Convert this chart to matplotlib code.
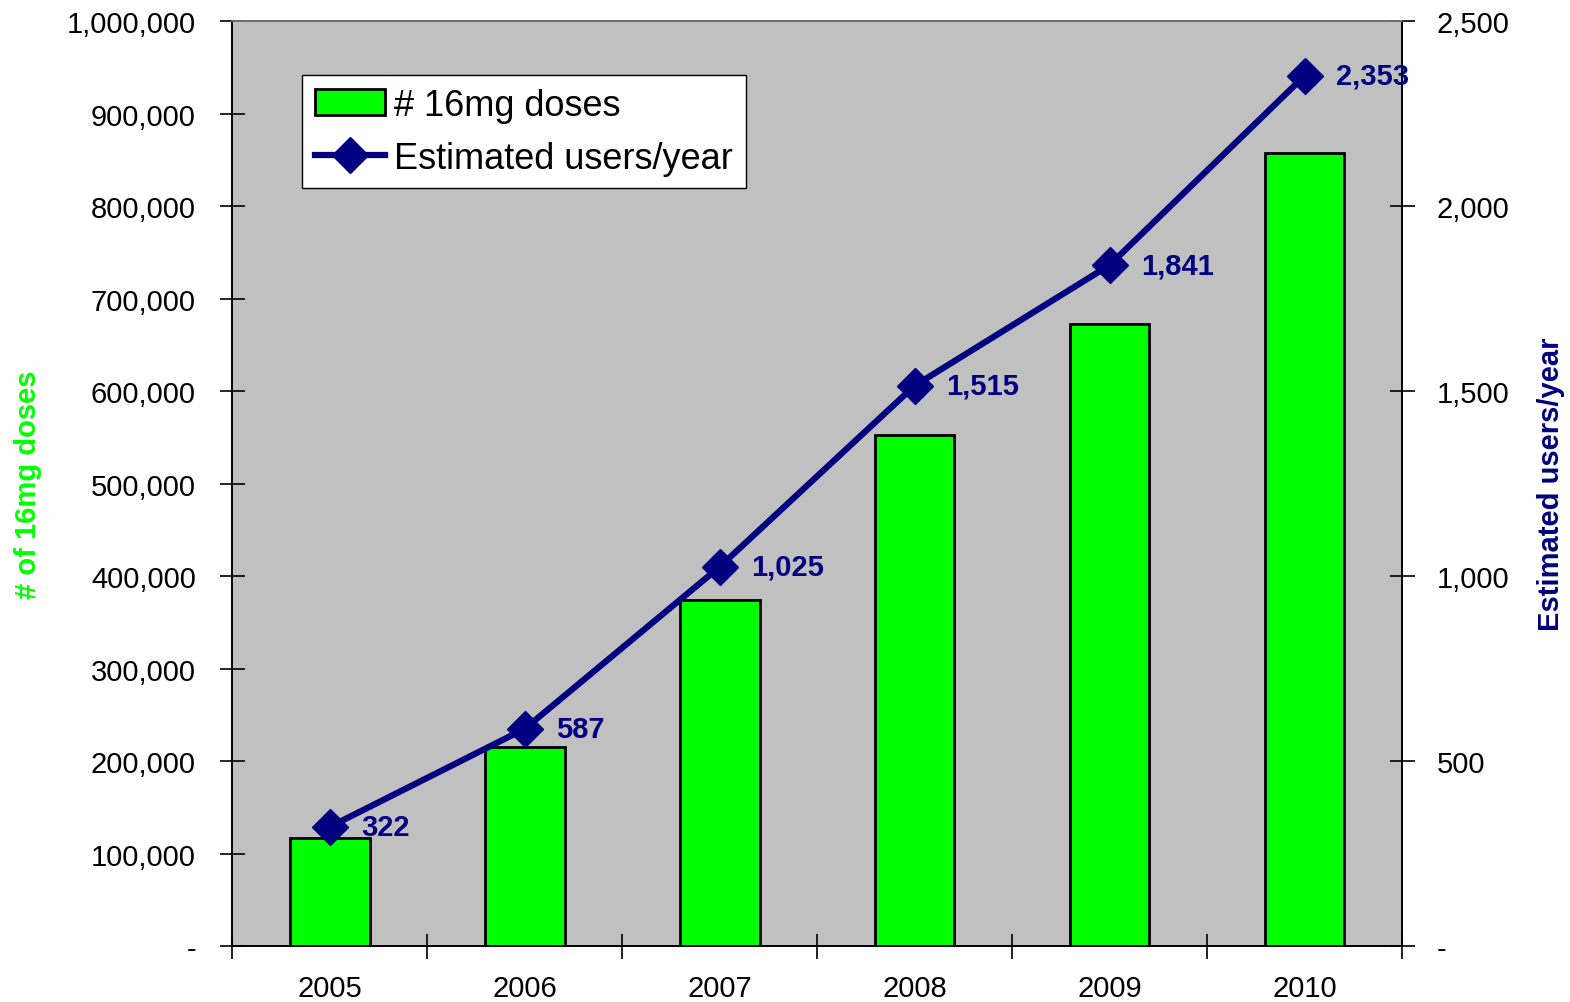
import matplotlib.pyplot as plt
import numpy as np
from matplotlib.ticker import FuncFormatter

plt.rcParams['font.family'] = ['Liberation Sans', 'DejaVu Sans']

years = ['2005', '2006', '2007', '2008', '2009', '2010']
doses = [116800, 215200, 374300, 552700, 672800, 857800]
users = [322, 587, 1025, 1515, 1841, 2353]

navy = '#000080'
green = '#00ff00'

fig = plt.figure(figsize=(15.7, 10.03), dpi=100)
ax = fig.add_axes([0.1478, 0.0558, 0.7452, 0.9218])
ax2 = ax.twinx()

x = np.arange(len(years))
bars = ax.bar(x, doses, width=0.41, color=green, edgecolor='black', linewidth=2,
              label='# 16mg doses', zorder=2)
ax.set_facecolor('#c0c0c0')
ax.set_xlim(-0.5, len(years) - 0.5)
ax.set_ylim(0, 1000000)
ax.set_yticks(np.arange(0, 1000001, 100000))

def fmt(v, pos):
    return '-' if v == 0 else f'{v:,.0f}'

ax.yaxis.set_major_formatter(FuncFormatter(fmt))
ax.set_xticks(x)
ax.set_xticklabels(years)
ax.set_xticks(np.arange(-0.5, len(years)), minor=True)
ax.tick_params(axis='x', which='major', length=0, labelsize=21, pad=20)
ax.tick_params(axis='x', which='minor', direction='inout', length=18, width=1.2)
ax.tick_params(axis='y', direction='inout', length=18, width=1.2, labelsize=21, pad=17)

line, = ax2.plot(x, users, color=navy, lw=4.5, marker='D', markersize=18,
                 label='Estimated users/year', zorder=3)
ax2.set_ylim(0, 2500)
ax2.set_yticks(np.arange(0, 2501, 500))
ax2.yaxis.set_major_formatter(FuncFormatter(fmt))
ax2.tick_params(axis='y', direction='inout', length=18, width=1.2, labelsize=21, pad=16)
for xi, u in zip(x, users):
    ax2.annotate(f'{u:,}', (xi, u), xytext=(23, 0), textcoords='offset points',
                 ha='left', va='center', fontsize=21, fontweight='bold', color=navy)

for a in (ax, ax2):
    for s in a.spines.values():
        s.set_linewidth(1.2)
ax2.spines['top'].set_color('#808080')

ax.set_ylabel('# of 16mg doses', color=green, fontsize=21, fontweight='bold', labelpad=18)
ax2.set_ylabel('Estimated users/year', color=navy, fontsize=21, fontweight='bold', labelpad=20)

leg = ax.legend([bars, line], ['# 16mg doses', 'Estimated users/year'],
                loc='upper left', bbox_to_anchor=(0.06, 0.942), fontsize=26,
                fancybox=False, framealpha=1, edgecolor='black', borderpad=0.35,
                handlelength=1.95, handletextpad=0.25, labelspacing=0.5,
                borderaxespad=0)
leg.get_frame().set_linewidth(1)
ax.set_zorder(1)
ax2.set_zorder(2)
ax.patch.set_visible(True)

fig.savefig('out.png', dpi=100)
